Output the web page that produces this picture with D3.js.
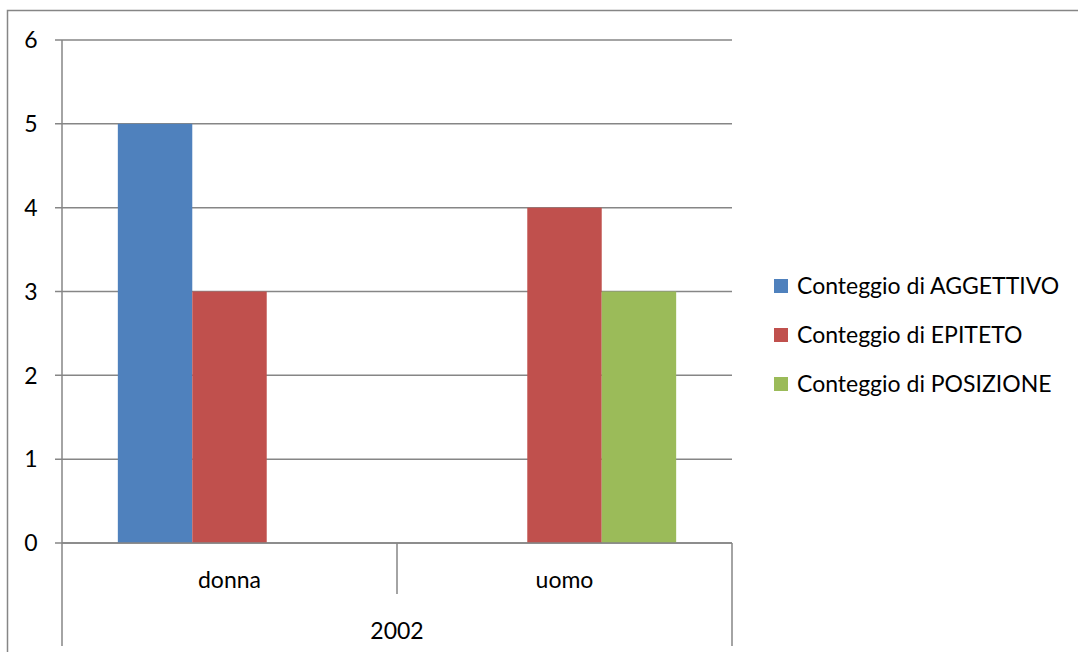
<!DOCTYPE html>
<html>
<head>
<meta charset="utf-8">
<script src="https://cdn.jsdelivr.net/npm/d3@7"></script>
<style>
  body { margin: 0; background: #fff; }
  text { font-family: Lato, "Open Sans", sans-serif; fill: #000; }
</style>
</head>
<body>
<svg id="chart" width="1078" height="652"></svg>
<script>
// data
var categories = ["donna", "uomo"];
var groupLabel = "2002";
var seriesNames = ["Conteggio di AGGETTIVO", "Conteggio di EPITETO", "Conteggio di POSIZIONE"];
var aggettivo = [5, 0];
var epiteto = [3, 4];
var posizione = [0, 3];
var yTicks = [0, 1, 2, 3, 4, 5, 6];
var colors = ["#4F81BD", "#C0504D", "#9BBB59"];

var seriesValues = [aggettivo, epiteto, posizione];

var svg = d3.select("#chart");
var plotLeft = 62, plotRight = 732, plotTop = 40, plotBottom = 543;
var grey = "#868686";
var fontSize = "23px";

// outer chart border (right/bottom run off the page)
svg.append("rect")
    .attr("x", 7.5).attr("y", 10.5)
    .attr("width", 1100).attr("height", 700)
    .attr("fill", "none").attr("stroke", grey).attr("stroke-width", 1.5);

var y = d3.scaleLinear().domain([0, 6]).range([plotBottom, plotTop]);
var x0 = d3.scaleBand().domain(categories).range([plotLeft, plotRight]);
var x1 = d3.scaleBand().domain(seriesNames).range([0, x0.bandwidth()])
    .paddingInner(0).paddingOuter(0.75);

// gridlines
svg.append("g").selectAll("line")
    .data(yTicks)
    .enter().append("line")
    .attr("x1", plotLeft - 7).attr("x2", plotRight)
    .attr("y1", d => y(d)).attr("y2", d => y(d))
    .attr("stroke", grey).attr("stroke-width", 1.5);

// y labels
svg.append("g").selectAll("text")
    .data(yTicks)
    .enter().append("text")
    .attr("x", 31).attr("y", d => y(d))
    .attr("dy", "0.36em")
    .attr("text-anchor", "middle")
    .attr("font-size", fontSize)
    .text(d => d);

// bars
var rows = [];
seriesNames.forEach(function(s, si) {
    categories.forEach(function(c, ci) {
        rows.push({ series: s, cat: c, value: seriesValues[si][ci], color: colors[si] });
    });
});

svg.append("g").selectAll("rect")
    .data(rows.filter(d => d.value > 0))
    .enter().append("rect")
    .attr("x", d => x0(d.cat) + x1(d.series))
    .attr("y", d => y(d.value))
    .attr("width", x1.bandwidth())
    .attr("height", d => y(0) - y(d.value))
    .attr("fill", d => d.color);

// category axis lines
svg.append("line")
    .attr("x1", plotLeft).attr("x2", plotRight)
    .attr("y1", y(0)).attr("y2", y(0))
    .attr("stroke", grey).attr("stroke-width", 1.5);

svg.append("line")
    .attr("x1", plotLeft).attr("x2", plotLeft)
    .attr("y1", plotTop).attr("y2", 646)
    .attr("stroke", grey).attr("stroke-width", 1.5);
svg.append("line")
    .attr("x1", plotRight).attr("x2", plotRight)
    .attr("y1", y(0)).attr("y2", 646)
    .attr("stroke", grey).attr("stroke-width", 1.5);
svg.append("line")
    .attr("x1", x0("uomo")).attr("x2", x0("uomo"))
    .attr("y1", y(0)).attr("y2", 594)
    .attr("stroke", grey).attr("stroke-width", 1.5);

svg.append("g").selectAll("text")
    .data(categories)
    .enter().append("text")
    .attr("x", d => x0(d) + x0.bandwidth() / 2)
    .attr("y", 580)
    .attr("dy", "0.36em")
    .attr("text-anchor", "middle")
    .attr("font-size", fontSize)
    .text(d => d);

svg.append("text")
    .attr("x", (plotLeft + plotRight) / 2)
    .attr("y", 631)
    .attr("dy", "0.36em")
    .attr("text-anchor", "middle")
    .attr("font-size", fontSize)
    .text(groupLabel);

// legend
var legend = svg.append("g").attr("transform", "translate(774, 286)");
var item = legend.selectAll("g")
    .data(seriesNames)
    .enter().append("g")
    .attr("transform", (d, i) => "translate(0," + i * 49 + ")");
item.append("rect")
    .attr("x", 0).attr("y", -7)
    .attr("width", 14).attr("height", 14)
    .attr("fill", (d, i) => colors[i]);
item.append("text")
    .attr("x", 23).attr("y", 0)
    .attr("dy", "0.36em")
    .attr("font-size", fontSize)
    .text(d => d);
</script>
</body>
</html>
